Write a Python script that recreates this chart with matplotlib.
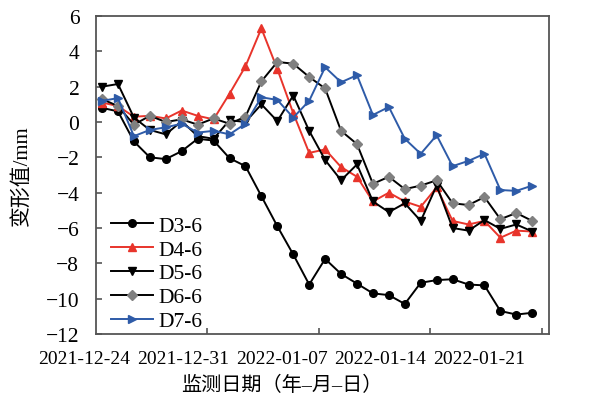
import numpy as np
import matplotlib
matplotlib.use('Agg')
import matplotlib.pyplot as plt

plt.rcParams['font.family'] = ['Liberation Serif', 'Noto Sans CJK SC']
plt.rcParams['axes.unicode_minus'] = True

# Daily monitoring values (mm), first point 2021-12-24
d3 = [0.8, 0.6, -1.1, -2.0, -2.1, -1.65, -0.95, -1.05, -2.05, -2.5,
      -4.2, -5.9, -7.5, -9.2, -7.75, -8.6, -9.15, -9.7, -9.8, -10.3,
      -9.1, -8.95, -8.9, -9.2, -9.25, -10.7, -10.9, -10.8]
d4 = [1.1, 0.9, 0.3, 0.35, 0.2, 0.65, 0.35, 0.15, 1.6, 3.15,
      5.3, 3.0, 0.5, -1.75, -1.55, -2.55, -3.1, -4.5, -4.0, -4.5,
      -4.8, -3.7, -5.6, -5.8, -5.6, -6.55, -6.15, -6.2]
d5 = [2.0, 2.15, 0.25, -0.45, -0.7, 0.05, -0.8, -0.95, 0.1, 0.0,
      1.0, 0.05, 1.5, -0.5, -2.15, -3.3, -2.4, -4.5, -5.1, -4.6,
      -5.6, -3.6, -6.0, -6.15, -5.55, -6.05, -5.8, -6.2]
d6 = [1.3, 0.9, -0.15, 0.35, 0.0, 0.15, -0.15, 0.2, -0.1, 0.3,
      2.3, 3.4, 3.3, 2.55, 1.9, -0.5, -1.25, -3.5, -3.1, -3.8,
      -3.6, -3.3, -4.6, -4.7, -4.25, -5.5, -5.15, -5.6]
d7 = [1.2, 1.35, -0.8, -0.45, -0.3, -0.1, -0.6, -0.5, -0.7, -0.1,
      1.4, 1.25, 0.25, 1.2, 3.1, 2.25, 2.65, 0.4, 0.85, -0.95,
      -1.8, -0.75, -2.5, -2.2, -1.8, -3.85, -3.9, -3.6]
date_labels = ['2021-12-24', '2021-12-31', '2022-01-07', '2022-01-14', '2022-01-21']

days = np.arange(len(d3))

fig = plt.figure(figsize=(5.9, 4.02), dpi=100)
ax = fig.add_axes([0.1627, 0.1667, 0.7678, 0.791])

ms = 5.5
lw = 1.4
ax.plot(days, d3, color='black', marker='o', ms=ms, lw=lw, label='D3-6')
ax.plot(days, d4, color='#e8342b', marker='^', ms=ms, lw=lw, label='D4-6')
ax.plot(days, d5, color='black', marker='v', ms=ms + 0.5, lw=lw, label='D5-6')
ax.plot(days, d6, color='black', marker='D', ms=ms - 0.5, lw=lw,
        mfc='#808080', mec='#808080', label='D6-6')
ax.plot(days, d7, color='#2e5ba8', marker='>', ms=ms + 0.5, lw=lw, label='D7-6')

ax.set_ylim(-12, 6)
ax.set_yticks(np.arange(-12, 7, 2))
ax.set_xlim(-0.38, 28.05)
ax.set_xticks(np.arange(6.6, 28, 7))
ax.set_xticklabels([])

for s in ax.spines.values():
    s.set_color('#555555')
    s.set_linewidth(1.3)
ax.tick_params(direction='in', length=4, width=1.2, color='#555555')
ax.tick_params(axis='y', labelsize=15.5, pad=12)

# date labels spread evenly under the axis
for k, lab in enumerate(date_labels):
    ax.text(-0.026 + 0.2179 * k, -0.078, lab, transform=ax.transAxes,
            ha='center', va='center', fontsize=14)

fig.text(0.478, 0.040, '监测日期（年–月–日）', ha='center', va='center',
         fontsize=14.5)
fig.text(0.037, 0.562, '变形值/mm', ha='center', va='center',
         rotation=90, fontsize=15)

ax.legend(loc='upper left', bbox_to_anchor=(0.0, 0.42), frameon=False,
          fontsize=15.5, handlelength=1.95, handletextpad=0.25,
          labelspacing=0.18, borderpad=0.2)

fig.savefig('out.png', dpi=100)
